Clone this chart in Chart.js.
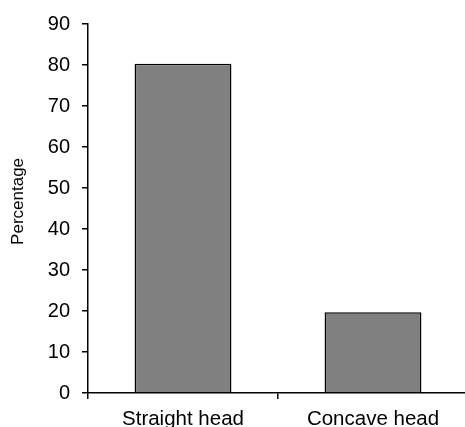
<!DOCTYPE html>
<html>
<head>
<meta charset="utf-8">
<script src="https://cdn.jsdelivr.net/npm/chart.js@4"></script>
<style>
  html, body { margin: 0; padding: 0; background: #fff; overflow: hidden; }
  #wrap { width: 468px; height: 427px; }
</style>
</head>
<body>
<div id="wrap"><canvas id="chart" width="468" height="427"></canvas></div>
<script>
// head shape percentages
const categories = ['Straight head', 'Concave head'];
const percentages = [80.3, 19.7];
const yTitle = 'Percentage';

const FONT = '"Liberation Sans", Arial, sans-serif';

const ctx = document.getElementById('chart').getContext('2d');
new Chart(ctx, {
  type: 'bar',
  data: {
    labels: categories,
    datasets: [{
      data: percentages,
      backgroundColor: '#808080',
      borderColor: '#000',
      borderWidth: 1.5,
      categoryPercentage: 1,
      barPercentage: 0.51,
    }]
  },
  options: {
    responsive: false,
    animation: false,
    layout: { padding: { top: 19, left: 8, right: 0, bottom: 0 } },
    plugins: { legend: { display: false }, tooltip: { enabled: false } },
    scales: {
      x: {
        grid: { drawOnChartArea: false, color: '#000', lineWidth: 1.5, tickLength: 6, offset: true },
        border: { color: '#000', width: 1.5 },
        ticks: { color: '#000', font: { family: FONT, size: 20.5 }, padding: 8, maxRotation: 0 },
        afterFit: s => { s.height = 34; }
      },
      y: {
        min: 0, max: 90,
        grid: { drawOnChartArea: false, color: '#000', lineWidth: 1.5, tickLength: 6 },
        border: { color: '#000', width: 1.5 },
        ticks: { stepSize: 10, color: '#000', font: { family: FONT, size: 20 }, padding: 12 },
        // leading spaces nudge the rotated title a little upward, as in the original
        title: { display: true, text: '   ' + yTitle, color: '#000', font: { family: FONT, size: 17 }, padding: 0 },
        afterFit: s => { s.width = 80; }
      }
    }
  }
});
</script>
</body>
</html>
